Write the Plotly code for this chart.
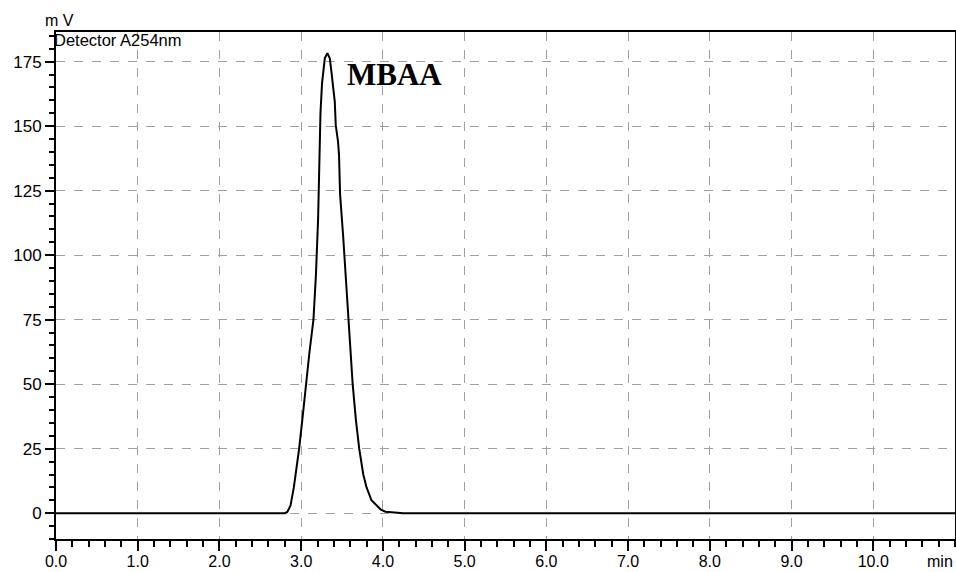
import plotly.graph_objects as go

# Chromatogram trace (time in min, signal in mV)
time_min = [0.0, 2.80, 2.83, 2.87, 2.91, 2.95, 2.975, 3.02, 3.056, 3.10, 3.15,
            3.18, 3.207, 3.227, 3.236, 3.255, 3.289, 3.32, 3.35, 3.37, 3.383,
            3.411, 3.423, 3.451, 3.463, 3.476, 3.513, 3.545, 3.58, 3.63, 3.67,
            3.71, 3.76, 3.80, 3.86, 3.92, 3.97, 4.03, 4.15, 4.25, 11.0]
signal_mv = [0.0, 0.0, 0.5, 3.0, 10.0, 19.0, 25.0, 38.0, 50.0, 62.0, 75.0,
             92.0, 114.0, 138.9, 155.0, 166.6, 176.3, 178.3, 176.3, 171.1, 166.6,
             159.5, 150.4, 144.0, 138.8, 123.6, 107.6, 92.0, 75.0, 50.0, 36.0,
             25.0, 15.0, 10.0, 5.0, 3.0, 1.5, 0.6, 0.2, 0.0, 0.0]

x_ticks = [0, 1, 2, 3, 4, 5, 6, 7, 8, 9, 10]
x_tick_labels = ["0.0", "1.0", "2.0", "3.0", "4.0", "5.0", "6.0", "7.0", "8.0", "9.0", "10.0"]
y_ticks = [0, 25, 50, 75, 100, 125, 150, 175]

peak_label = "MBAA"
peak_label_pos = (3.53, 170.0)

font_family = "Liberation Sans, Arial, sans-serif"

fig = go.Figure()
fig.add_trace(go.Scatter(x=time_min, y=signal_mv, mode="lines",
                         line=dict(color="black", width=2), showlegend=False,
                         hoverinfo="skip"))

grid_color = "#a0a0a0"
fig.update_xaxes(
    range=[0, 11.0], tickvals=x_ticks, ticktext=x_tick_labels, automargin=False,
    showgrid=True, gridcolor=grid_color, griddash="dash", gridwidth=1,
    zeroline=False, showline=True, linecolor="black", linewidth=2, mirror=True,
    ticks="outside", ticklen=10, tickwidth=2, tickcolor="black",
    minor=dict(dtick=0.2, ticks="outside", ticklen=6, tickwidth=2, tickcolor="black", showgrid=False),
    tickfont=dict(family=font_family, size=16, color="black"),
    ticklabelstandoff=-3,
)
fig.update_yaxes(
    range=[-10, 186.5], tickvals=y_ticks, automargin=False,
    showgrid=True, gridcolor=grid_color, griddash="dash", gridwidth=1,
    zeroline=False, showline=True, linecolor="black", linewidth=2, mirror=True,
    ticks="outside", ticklen=9, tickwidth=2, tickcolor="black",
    minor=dict(dtick=5, ticks="outside", ticklen=5, tickwidth=2, tickcolor="black", showgrid=False),
    tickfont=dict(family=font_family, size=17, color="black"),
)

fig.add_annotation(text="m V", xref="paper", yref="paper", x=0, y=1,
                   xanchor="center", yanchor="bottom", xshift=3, yshift=1,
                   showarrow=False, font=dict(family=font_family, size=16, color="black"))
fig.add_annotation(text="Detector A254nm", xref="paper", yref="paper", x=0, y=1,
                   xanchor="left", yanchor="top", xshift=-4, yshift=3,
                   showarrow=False, font=dict(family=font_family, size=16.5, color="black"))
fig.add_annotation(text="<b>" + peak_label + "</b>", x=peak_label_pos[0], y=peak_label_pos[1],
                   xanchor="left", yanchor="middle", showarrow=False,
                   font=dict(family="Liberation Serif, Times New Roman, serif", size=31, color="black"))
fig.add_annotation(text="min", xref="paper", yref="paper", x=1, y=0,
                   xanchor="right", yanchor="top", yshift=-12, xshift=0,
                   showarrow=False, font=dict(family=font_family, size=16, color="black"))

fig.update_layout(
    width=956, height=572,
    margin=dict(l=56, r=1, t=32, b=33),
    paper_bgcolor="white", plot_bgcolor="white",
)

fig.write_html("out.html")
